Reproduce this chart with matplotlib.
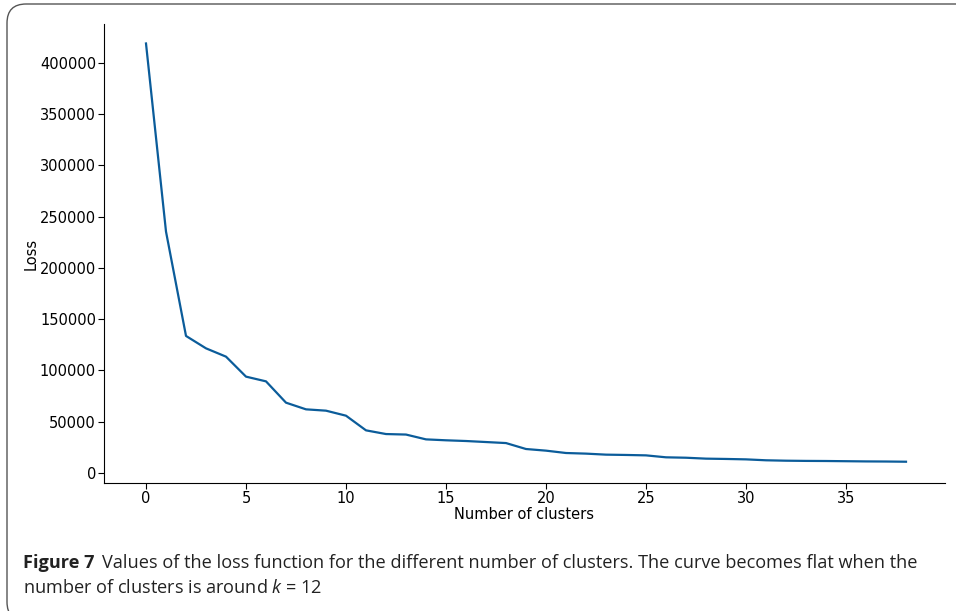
import matplotlib
matplotlib.use("Agg")
import matplotlib.pyplot as plt
from matplotlib.patches import FancyBboxPatch

plt.rcParams["font.family"] = ["DejaVu Sans"]
plt.rcParams["mathtext.fontset"] = "custom"
plt.rcParams["mathtext.it"] = "Open Sans:italic"
plt.rcParams["mathtext.rm"] = "Open Sans"

n_clusters = list(range(39))
loss = [419000, 235500, 133700, 121600, 113500, 94000, 89400, 68600, 62100, 60800,
        55900, 41600, 38000, 37500, 32800, 31900, 31200, 30200, 29200, 23400,
        21800, 19500, 18900, 17900, 17600, 17200, 15300, 14900, 14000, 13700,
        13300, 12400, 12000, 11800, 11700, 11500, 11300, 11200, 11000]
x_ticks = [0, 5, 10, 15, 20, 25, 30, 35]
y_ticks = [0, 50000, 100000, 150000, 200000, 250000, 300000, 350000, 400000]

W, H = 956, 611
fig = plt.figure(figsize=(W / 100, H / 100), dpi=100)

# outer rounded frame
frame = FancyBboxPatch((7 / W, -10 / H), (W + 20) / W, (H + 6) / H,
                       boxstyle="round,pad=0,rounding_size=0.02",
                       transform=fig.transFigure, fill=False,
                       edgecolor="#555555", linewidth=1.0, mutation_aspect=W / H)
fig.patches.append(frame)

ax = fig.add_axes([104 / W, 1 - 483 / H, (945 - 104) / W, (483 - 24) / H])
ax.plot(n_clusters, loss, color="#0b5c9a", linewidth=1.6)
ax.set_xlim(-2.1, 39.95)
ax.set_ylim(-9756, 438000)
ax.spines["top"].set_visible(False)
ax.spines["right"].set_visible(False)
ax.set_xticks(x_ticks)
ax.set_yticks(y_ticks)
ax.tick_params(labelsize=10.5, length=4, pad=1.8)
ax.set_xlabel("Number of clusters", fontsize=10.5, labelpad=0.5)
ax.set_ylabel("Loss", fontsize=10.5, labelpad=1)

cap_font = "Open Sans"
cap_size = 13.1
cap_color = "#222222"
fig.canvas.draw()
r = fig.canvas.get_renderer()
t1 = fig.text(23 / W, 1 - 563 / H, "Figure 7", fontsize=cap_size, fontweight="bold",
              family=cap_font, va="center", ha="left", color=cap_color)
bb = t1.get_window_extent(renderer=r)
fig.text((bb.x1 + 7) / W, 1 - 563 / H,
         "Values of the loss function for the different number of clusters. The curve becomes flat when the",
         fontsize=cap_size, family=cap_font, va="center", ha="left", color=cap_color)
fig.text(23 / W, 1 - 588 / H, "number of clusters is around $k$ = 12",
         fontsize=cap_size, family=cap_font, va="center", ha="left", color=cap_color)

fig.savefig("out.png", dpi=100)
